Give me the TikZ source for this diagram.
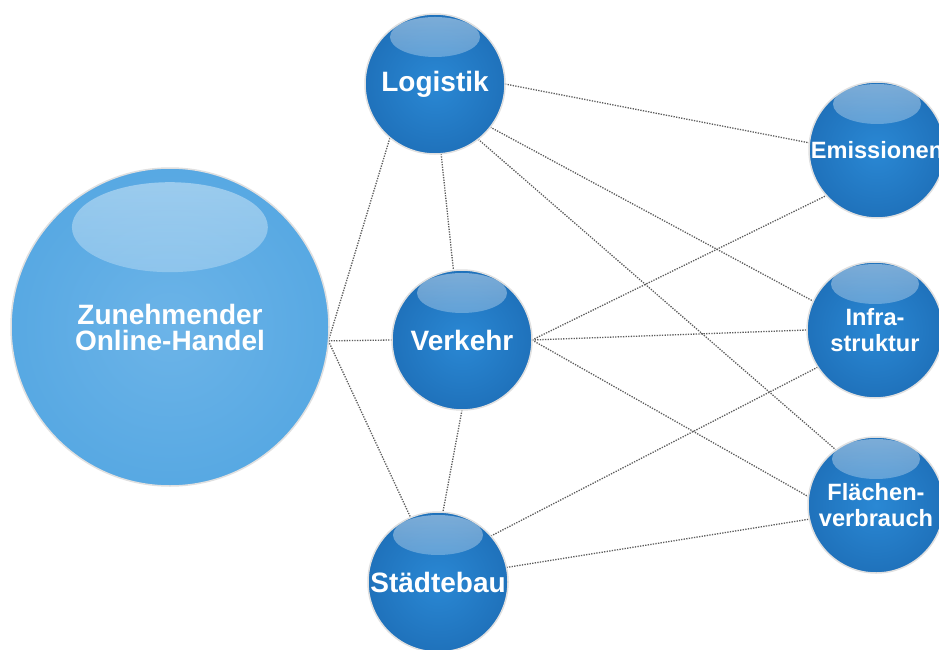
\documentclass[tikz,border=0pt]{standalone}
\usepackage{fontspec}
\setmainfont{Liberation Sans}
\usetikzlibrary{fadings,calc}
\definecolor{sA}{HTML}{2A88D4}
\definecolor{sB}{HTML}{1E6FB8}
\definecolor{sC}{HTML}{155A9C}
\definecolor{sD}{HTML}{0E4A86}
\definecolor{bA}{HTML}{6CB4E8}
\definecolor{bB}{HTML}{55A7E2}
\definecolor{bC}{HTML}{3E93D8}
\definecolor{bD}{HTML}{2F86CF}
\definecolor{linkgray}{HTML}{5C5C5C}
\pgfdeclareradialshading{smallshade}{\pgfpoint{0bp}{0bp}}{color(0bp)=(sA); color(28bp)=(sB); color(43bp)=(sC); color(50bp)=(sD)}
\pgfdeclareradialshading{bigshade}{\pgfpoint{0bp}{0bp}}{color(0bp)=(bA); color(28bp)=(bB); color(44bp)=(bC); color(50bp)=(bD)}
\pgfdeclareverticalshading{hlshade}{100bp}{color(0bp)=(pgftransparent!100); color(30bp)=(pgftransparent!100); color(62bp)=(pgftransparent!70); color(100bp)=(pgftransparent!35)}
\pgfdeclarefading{hlfade}{\pgfuseshading{hlshade}}
\pgfdeclarelayer{bg}
\pgfsetlayers{bg,main}
\begin{document}
\begin{tikzpicture}[x=1pt,y=-1pt,
  ball/.style={circle, inner sep=0pt, outer sep=0pt, draw=black!12, line width=1.5pt,
    text=white, align=center},
  smallball/.style={ball, minimum size=140pt, shading=smallshade,
    font=\fontsize{28}{30}\selectfont\bfseries,
    path picture={\fill[white, path fading=hlfade]
      ($(path picture bounding box.center)+(0,-47)$) ellipse [x radius=45, y radius=20];}},
  rightball/.style={ball, minimum size=136pt, shading=smallshade,
    font=\fontsize{23.6}{26}\selectfont\bfseries,
    path picture={\fill[white, path fading=hlfade]
      ($(path picture bounding box.center)+(0,-46)$) ellipse [x radius=44, y radius=20];}},
  bigball/.style={ball, minimum size=318pt, shading=bigshade,
    font=\fontsize{28}{26}\selectfont\bfseries,
    path picture={\fill[white, path fading=hlfade]
      ($(path picture bounding box.center)+(0,-100)$) ellipse [x radius=98, y radius=45];}},
  link/.style={draw=linkgray, line width=1.3pt, dash pattern=on 1.3pt off 1.3pt}]
\useasboundingbox (0,0) rectangle (939,650);

\node[bigball] (big) at (170,327) {Zunehmender\\Online-Handel};
\node[smallball] (log) at (435,84) {Logistik};
\node[smallball] (ver) at (462,340) {Verkehr};
\node[smallball] (sta) at (438,582) {Städtebau};
\node[rightball] (emi) at (877,150) {Emissionen};
\node[rightball] (inf) at (875,330) {Infra-\\struktur};
\node[rightball] (fla) at (876,505) {Flächen-\\verbrauch};

\begin{pgfonlayer}{bg}
\fill[white] (0,0) rectangle (939,650);
\draw[link] (big.355) -- (log.230);
\draw[link] (big.355) -- (ver.180);
\draw[link] (big.355) -- (sta.113);
\draw[link] (log.275) -- (ver.97);
\draw[link] (ver.270) -- (sta.86);
\draw[link] (log.0) -- (emi.174);
\draw[link] (log.322) -- (inf.155);
\draw[link] (log.308) -- (fla.126);
\draw[link] (ver.0) -- (emi.222);
\draw[link] (ver.0) -- (inf.180);
\draw[link] (ver.0) -- (fla.173);
\draw[link] (sta.41) -- (inf.213);
\draw[link] (sta.12) -- (fla.192);
\end{pgfonlayer}
\end{tikzpicture}
\end{document}
